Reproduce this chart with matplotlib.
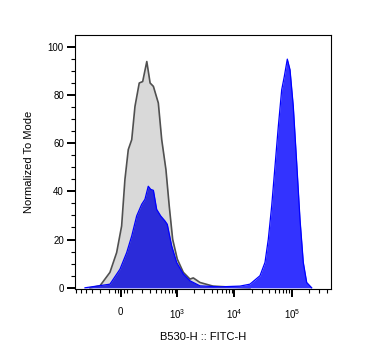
import numpy as np
import matplotlib
matplotlib.use("Agg")
import matplotlib.pyplot as plt

# grey control histogram (x in channel units, y in % of mode)
grey_x = [-326, -195, -93, -34, 8, 36, 65, 96, 127, 171, 210, 262, 309, 361, 451,
          523, 626, 719, 829, 1002, 1281, 1678, 1917, 2511, 4227, 8360, 18600]
grey_y = [0, 0.8, 6.4, 14.6, 25.6, 44.9, 57.3, 61.4, 75.2, 84.9, 85.5, 93.8, 84.9,
          83.5, 76.6, 61.4, 49.0, 33.9, 20.1, 11.9, 6.4, 3.6, 4.1, 2.2, 0.7, 0.3, 0]

# blue stained sample
blue_x = [-413, -93, -6, 51, 96, 144, 198, 238, 282, 318, 361, 419, 500, 601, 663,
          795, 978, 1281, 1678, 2511, 5600, 12470, 18600, 27800, 33950, 38760, 44400,
          50700, 57900, 66300, 73600, 83000, 92500, 105500, 120900, 138000, 157500,
          180500, 220500]
blue_y = [0, 1.5, 7.7, 14.6, 21.5, 29.8, 34.6, 36.7, 42.1, 40.8, 40.4, 32.5, 29.8,
          27.7, 26.3, 17.4, 10.5, 5.7, 2.9, 0.8, 0.4, 0.7, 1.5, 5.0, 10.5, 20.1, 33.9,
          50.4, 66.9, 82.1, 87.6, 94.8, 90.4, 75.2, 51.8, 28.4, 10.5, 2.2, 0]

major_ticks = [0, 1e3, 1e4, 1e5]
major_labels = ["0", r"$\mathregular{10^3}$", r"$\mathregular{10^4}$", r"$\mathregular{10^5}$"]

C = 210.0
def fwd(x):
    return np.arcsinh(np.asarray(x, dtype=float) / C)
def inv(y):
    return C * np.sinh(np.asarray(y, dtype=float))

plt.rcParams['font.family'] = ['Liberation Sans', 'DejaVu Sans']

fig = plt.figure(figsize=(3.70, 3.63), dpi=100)
ax = fig.add_axes([75/370, 1-289/363, 256/370, 254/363])
ax.set_xscale('function', functions=(fwd, inv))

ax.fill_between(grey_x, grey_y, color='#d9d9d9', lw=0, zorder=1)
ax.plot(grey_x, grey_y, color='#505050', lw=1.2, zorder=2)
blue_poly = ax.fill_between(blue_x, blue_y, color='#3333ff', lw=0, zorder=3)
# darker where blue sits over the grey one
shade = ax.fill_between(grey_x, grey_y, color=(0, 0, 0, 0.15), lw=0, zorder=3.5)
shade.set_clip_path(blue_poly.get_paths()[0], blue_poly.get_transform())
ax.plot(blue_x, blue_y, color='#0000ff', lw=0.9, zorder=4)

minor = []
for k in [100, 1000, 10000, 100000]:
    for m in range(2, 10):
        minor.append(m * k)
minor += [-m * 100 for m in range(1, 7)] + [100, -50, 50, -25, 25]
minor = [m for m in minor if m < 470000]
ax.set_xticks(major_ticks)
ax.set_xticklabels(major_labels)
ax.set_xticks(minor, minor=True)
ax.set_yticks(range(0, 101, 20))
ax.set_yticks(range(0, 101, 5), minor=True)

ax.set_xlim(-637, 477500)
ax.set_ylim(-0.5, 104.8)

ax.tick_params(which='major', length=6, width=1.4, labelsize=7)
ax.tick_params(which='minor', length=3, width=0.8)
ax.tick_params(axis='x', which='major', pad=7)
ax.tick_params(axis='y', which='major', pad=2)

ax.set_xlabel("B530-H :: FITC-H", fontsize=8, labelpad=8)
ax.set_ylabel("Normalized To Mode", fontsize=8, labelpad=10)

fig.savefig("out.png", dpi=100)
